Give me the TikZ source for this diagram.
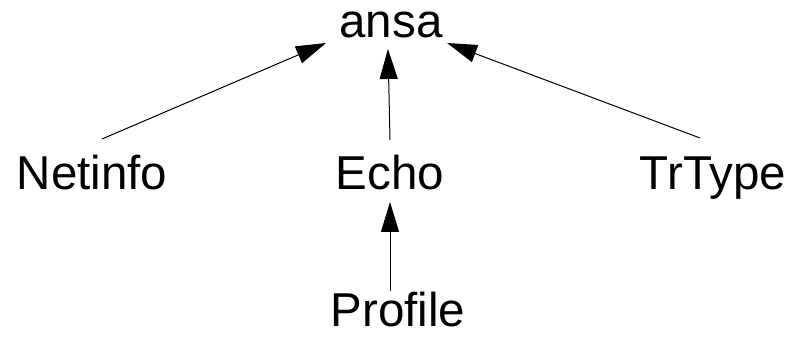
\documentclass[tikz,border=0pt]{standalone}
\usepackage{fontspec}
\setmainfont{Liberation Sans}
\usetikzlibrary{arrows.meta}
\begin{document}
\begin{tikzpicture}[x=1pt,y=1pt,
  lbl/.style={anchor=base,inner sep=0pt,font=\fontsize{47.5}{50}\selectfont},
  arr/.style={line width=1pt,-{Triangle[length=30pt,width=18pt]}}]
\useasboundingbox (0,0) rectangle (797,337);
% class names
\node[lbl] (ansa) at (391,299) {ansa};
\node[lbl] (netinfo) at (92,147) {Netinfo};
\node[lbl] (echo) at (390,147) {Echo};
\node[lbl] (trtype) at (713,147) {TrType};
\node[lbl] (profile) at (398,10) {Profile};
% connector end points
\coordinate (nS) at (102,198);
\coordinate (nT) at (326,294);
\coordinate (eS) at (390,197);
\coordinate (eT) at (388,288);
\coordinate (tS) at (700,199);
\coordinate (tT) at (447,294);
\coordinate (pS) at (390,46);
\coordinate (pT) at (390,135);
% inheritance arrows
\draw[arr] (nS) -- (nT);
\draw[arr] (eS) -- (eT);
\draw[arr] (tS) -- (tT);
\draw[arr] (pS) -- (pT);
\end{tikzpicture}
\end{document}
